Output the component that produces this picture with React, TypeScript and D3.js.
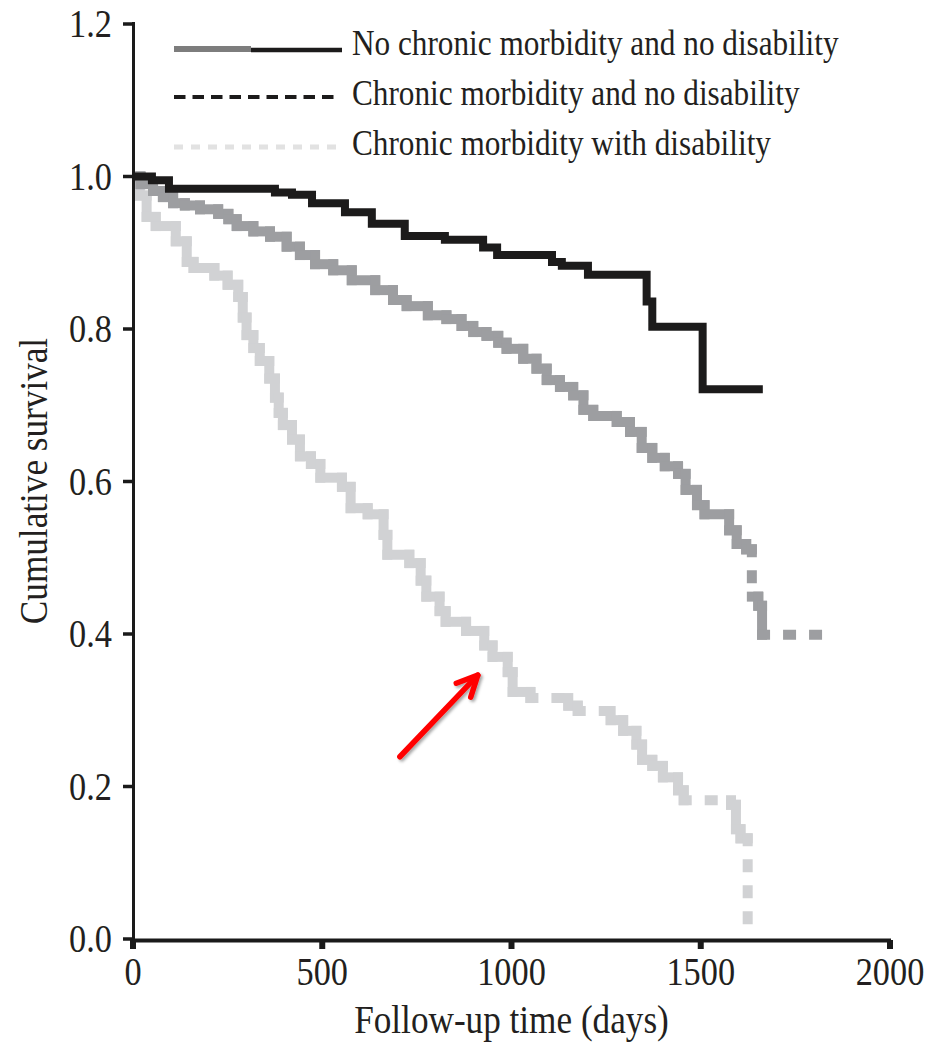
import React from 'react';
import * as d3 from 'd3';

// ---------- data ----------
const xTicks = [0, 500, 1000, 1500, 2000];
const yTicks = [0, 0.2, 0.4, 0.6, 0.8, 1.0, 1.2];
const legendLabels = [
  'No chronic morbidity and no disability',
  'Chronic morbidity and no disability',
  'Chronic morbidity with disability',
];
const xTitle = 'Follow-up time (days)';
const yTitle = 'Cumulative survival';

// Black: no chronic morbidity and no disability
const noMorbTime = [0, 50, 95, 375, 420, 473, 560, 631, 718, 824, 925, 962, 1107, 1133, 1202, 1357, 1372, 1505];
const noMorbSurv = [1.0, 0.995, 0.984, 0.979, 0.976, 0.965, 0.953, 0.938, 0.922, 0.917, 0.907, 0.897, 0.888, 0.883, 0.871, 0.836, 0.803, 0.721];
const noMorbEnd = 1664;

// Grey: chronic morbidity and no disability
const morbTime = [0, 20, 53, 79, 106, 137, 177, 225, 252, 274, 318, 362, 406, 441, 481, 529, 578, 640, 687, 723, 779, 828, 868, 899, 934, 965, 987, 1031, 1066, 1093, 1128, 1163, 1190, 1216, 1278, 1313, 1344, 1372, 1405, 1440, 1460, 1490, 1510, 1575, 1595, 1620, 1635, 1652, 1662];
const morbSurv = [1.0, 0.99, 0.981, 0.973, 0.965, 0.962, 0.957, 0.951, 0.944, 0.935, 0.928, 0.921, 0.908, 0.897, 0.885, 0.877, 0.864, 0.851, 0.838, 0.830, 0.818, 0.813, 0.804, 0.796, 0.791, 0.782, 0.774, 0.761, 0.748, 0.733, 0.724, 0.713, 0.694, 0.686, 0.678, 0.665, 0.644, 0.631, 0.620, 0.610, 0.589, 0.569, 0.557, 0.536, 0.518, 0.511, 0.449, 0.437, 0.399];
const morbEnd = 1820;

// Light grey: chronic morbidity with disability
const disTime = [0, 18, 36, 60, 113, 142, 160, 215, 250, 278, 290, 300, 318, 335, 360, 375, 385, 396, 420, 441, 470, 495, 552, 575, 620, 662, 672, 730, 760, 775, 810, 826, 880, 928, 950, 990, 1003, 1050, 1150, 1175, 1262, 1295, 1330, 1345, 1372, 1400, 1440, 1455, 1580, 1593, 1605, 1624];
const disSurv = [1.0, 0.975, 0.947, 0.935, 0.915, 0.888, 0.880, 0.870, 0.858, 0.842, 0.815, 0.792, 0.775, 0.758, 0.735, 0.710, 0.690, 0.674, 0.655, 0.633, 0.623, 0.605, 0.593, 0.565, 0.557, 0.530, 0.504, 0.493, 0.470, 0.449, 0.430, 0.416, 0.404, 0.385, 0.370, 0.350, 0.324, 0.316, 0.306, 0.299, 0.287, 0.273, 0.255, 0.235, 0.227, 0.212, 0.195, 0.182, 0.176, 0.144, 0.132, 0.0];
const disEnd = 1624;

// annotation arrow (data coordinates: days, survival)
const arrowFrom = [705, 0.239];
const arrowTo = [911, 0.346];

// ---------- layout ----------
const W = 928;
const H = 1044;
const x = d3.scaleLinear().domain([0, 2000]).range([133, 890]);
const y = d3.scaleLinear().domain([0, 1.2]).range([939, 24]);
const FONT = "'Liberation Serif', 'Times New Roman', serif";
const TXT = '#231f20';
const SQ = 0.88;

type Seg = { x1: number; y1: number; x2: number; y2: number; len: number };

function buildSegments(times: number[], surv: number[], end: number): Seg[] {
  const segs: Seg[] = [];
  for (let i = 0; i < times.length; i++) {
    const nextT = i + 1 < times.length ? times[i + 1] : end;
    const x0 = x(times[i]);
    const y0 = y(surv[i]);
    const x1 = x(nextT);
    if (x1 > x0) segs.push({ x1: x0, y1: y0, x2: x1, y2: y0, len: x1 - x0 });
    if (i + 1 < times.length) {
      const y1 = y(surv[i + 1]);
      segs.push({ x1: x1, y1: y0, x2: x1, y2: y1, len: Math.abs(y1 - y0) });
    }
  }
  return segs;
}

function SegCurve({ segs, color, width }: { segs: Seg[]; color: string; width: number }) {
  return (
    <g>
      {segs.map((s, i) => (
        <line
          key={i}
          x1={s.x1}
          y1={s.y1}
          x2={s.x2}
          y2={s.y2}
          stroke={color}
          strokeWidth={width}
          strokeLinecap="square"
          strokeDasharray={s.len > 30 ? '3,23' : undefined}
        />
      ))}
    </g>
  );
}

export default function App() {
  const blackLine = d3
    .line<number>()
    .x((_, i) => x(noMorbTime[i]))
    .y((d) => y(d))
    .curve(d3.curveStepAfter);
  const blackPath = blackLine(noMorbSurv) + `H${x(noMorbEnd)}`;

  const greySegs = buildSegments(morbTime, morbSurv, morbEnd);
  const lightSegs = buildSegments(disTime, disSurv, disEnd);

  const ax0 = x(arrowFrom[0]);
  const ay0 = y(arrowFrom[1]);
  const ax1 = x(arrowTo[0]);
  const ay1 = y(arrowTo[1]);
  const ang = Math.atan2(ay0 - ay1, ax0 - ax1);
  const bl = 23;
  const b1 = [ax1 + bl * Math.cos(ang + 0.45), ay1 + bl * Math.sin(ang + 0.45)];
  const b2 = [ax1 + bl * Math.cos(ang - 0.45), ay1 + bl * Math.sin(ang - 0.45)];

  const legendY = [49, 97, 147];
  const legendTextY = [55, 105, 155];

  return (
    <svg
      width={W}
      height={H}
      style={{ position: 'absolute', left: 0, top: 0, background: '#fff' }}
      xmlns="http://www.w3.org/2000/svg"
    >
      <defs>
        <clipPath id="plotClip">
          <rect x={135} y={0} width={W - 135} height={H} />
        </clipPath>
        <filter id="shadow" x="-20%" y="-20%" width="140%" height="140%">
          <feDropShadow dx="2" dy="2" stdDeviation="1.5" floodColor="#000" floodOpacity="0.35" />
        </filter>
      </defs>
      <rect x={0} y={0} width={W} height={H} fill="#fff" />

      {/* curves */}
      <g clipPath="url(#plotClip)">
        <SegCurve segs={lightSegs} color="#d1d2d4" width={10} />
        <SegCurve segs={greySegs} color="#9d9ea1" width={10} />
        <path d={blackPath} fill="none" stroke="#1c1b1b" strokeWidth={8} strokeLinejoin="miter" />
      </g>

      {/* axes */}
      <line x1={133.5} y1={22} x2={133.5} y2={942} stroke="#1a1a1a" strokeWidth={3} />
      <line x1={132} y1={940.5} x2={891} y2={940.5} stroke="#1a1a1a" strokeWidth={4} />
      {yTicks.map((t) => (
        <g key={`y${t}`}>
          <line x1={123} y1={y(t)} x2={134} y2={y(t)} stroke="#1a1a1a" strokeWidth={3.5} />
          <text
            transform={`translate(112,${y(t) + 13}) scale(${SQ},1)`}
            textAnchor="end"
            fontFamily={FONT}
            fontSize={39}
            fill={TXT}
          >
            {t.toFixed(1)}
          </text>
        </g>
      ))}
      {xTicks.map((t) => (
        <g key={`x${t}`}>
          <line x1={x(t)} y1={940} x2={x(t)} y2={949} stroke="#1a1a1a" strokeWidth={6} />
          <text
            transform={`translate(${x(t)},985) scale(${SQ},1)`}
            textAnchor="middle"
            fontFamily={FONT}
            fontSize={39}
            fill={TXT}
          >
            {t}
          </text>
        </g>
      ))}
      <text
        transform={`translate(${(x(0) + x(2000)) / 2},1033) scale(${SQ},1)`}
        textAnchor="middle"
        fontFamily={FONT}
        fontSize={40}
        fill={TXT}
      >
        {xTitle}
      </text>
      <text
        transform={`translate(47,481) rotate(-90) scale(${SQ},1)`}
        textAnchor="middle"
        fontFamily={FONT}
        fontSize={40}
        fill={TXT}
      >
        {yTitle}
      </text>

      {/* legend */}
      <line x1={174} y1={legendY[0]} x2={251} y2={legendY[0]} stroke="#7d7d7d" strokeWidth={6} />
      <line x1={251} y1={legendY[0] + 1} x2={342} y2={legendY[0] + 1} stroke="#1c1b1b" strokeWidth={4.5} />
      <line x1={174} y1={legendY[1]} x2={336} y2={legendY[1]} stroke="#1c1b1b" strokeWidth={4} strokeDasharray="11.5,7" />
      <line x1={174} y1={legendY[2]} x2={336} y2={legendY[2]} stroke="#e2e2e2" strokeWidth={5} strokeDasharray="9,8" />
      {legendLabels.map((lab, i) => (
        <text
          key={lab}
          transform={`translate(352,${legendTextY[i]}) scale(${SQ},1)`}
          fontFamily={FONT}
          fontSize={35.5}
          fill={TXT}
        >
          {lab}
        </text>
      ))}

      {/* annotation arrow */}
      <g filter="url(#shadow)" stroke="#ff0000" strokeWidth={5.5} strokeLinecap="round" strokeLinejoin="round" fill="none">
        <line x1={ax0} y1={ay0} x2={ax1} y2={ay1} />
        <polyline points={`${b1[0]},${b1[1]} ${ax1},${ay1} ${b2[0]},${b2[1]}`} />
      </g>
    </svg>
  );
}
